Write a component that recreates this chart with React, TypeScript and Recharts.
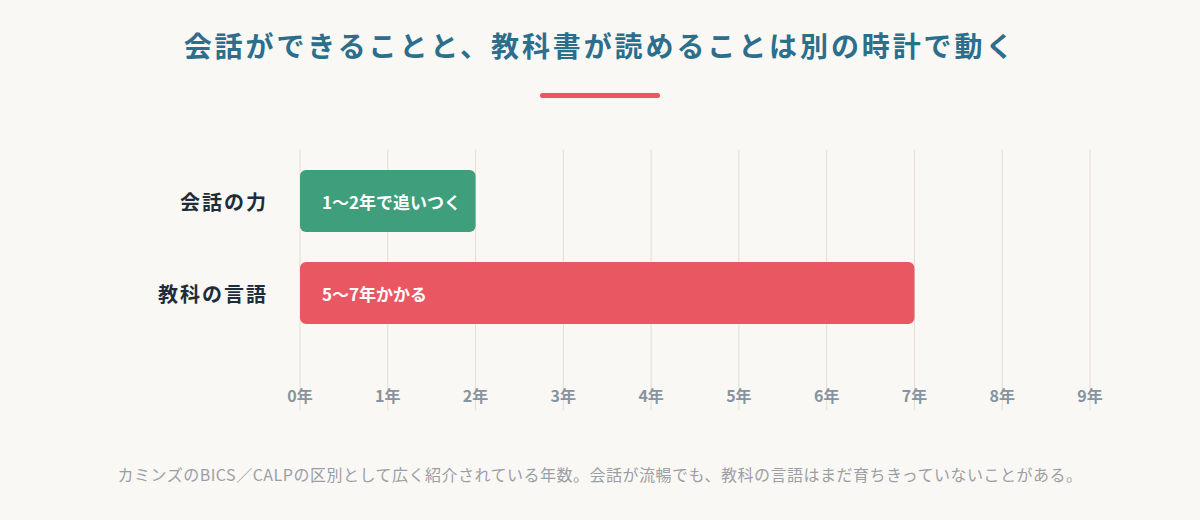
import { BarChart, Bar, XAxis, YAxis, CartesianGrid, Cell, LabelList } from "recharts";

const categories = ["会話の力", "教科の言語"];
const years = [2, 7];
const barLabels = ["1〜2年で追いつく", "5〜7年かかる"];
const barColors = ["#3f9e7c", "#e85762"];
const yearTicks = [0, 1, 2, 3, 4, 5, 6, 7, 8, 9];

const data = categories.map((name, i) => ({ name, years: years[i], label: barLabels[i] }));

const FONT = '"Noto Sans CJK JP", "Noto Sans", sans-serif';

// tick labels sit over the bottom end of the grid lines
const YearTick = (props: any) => (
  <text
    x={props.x}
    y={props.y - 15}
    textAnchor="middle"
    dominantBaseline="central"
    fontSize={16}
    fontWeight={700}
    fill="#8893a0"
    fontFamily={FONT}
  >
    {props.payload.value}年
  </text>
);

const CategoryTick = (props: any) => (
  <text
    x={props.x}
    y={props.y}
    textAnchor="end"
    dominantBaseline="central"
    fontSize={20}
    fontWeight={700}
    fill="#1f2d3a"
    letterSpacing={2}
    fontFamily={FONT}
  >
    {props.payload.value}
  </text>
);

const BarText = (props: any) => (
  <text
    x={props.x + 22}
    y={props.y + props.height / 2}
    dominantBaseline="central"
    fontSize={17}
    fontWeight={700}
    fill="#ffffff"
    fontFamily={FONT}
  >
    {props.value}
  </text>
);

export default function App() {
  return (
    <div
      style={{
        position: "absolute",
        left: 0,
        top: 0,
        width: 1200,
        height: 520,
        background: "#faf8f4",
        fontFamily: FONT,
        overflow: "hidden",
      }}
    >
      <BarChart
        width={1200}
        height={520}
        data={data}
        layout="vertical"
        margin={{ top: 150, right: 110, bottom: 80, left: 150 }}
      >
        <CartesianGrid horizontal={false} stroke="#e4ded3" />
        <XAxis
          type="number"
          domain={[0, 9]}
          ticks={yearTicks}
          height={30}
          axisLine={false}
          tickLine={false}
          tickSize={0}
          tickMargin={0}
          tick={<YearTick />}
        />
        <YAxis
          type="category"
          dataKey="name"
          width={150}
          axisLine={false}
          tickLine={false}
          tickSize={0}
          tickMargin={32}
          padding={{ top: 5, bottom: 71 }}
          tick={<CategoryTick />}
        />
        <Bar dataKey="years" barSize={62} radius={6} isAnimationActive={false}>
          {data.map((d, i) => (
            <Cell key={d.name} fill={barColors[i]} />
          ))}
          <LabelList dataKey="label" content={<BarText />} />
        </Bar>
      </BarChart>

      <div
        style={{
          position: "absolute",
          top: 26,
          left: 0,
          width: 1200,
          textAlign: "center",
          fontSize: 28,
          fontWeight: 700,
          letterSpacing: 2.9,
          color: "#2b6f8c",
          lineHeight: "38px",
        }}
      >
        会話ができることと、教科書が読めることは別の時計で動く
      </div>
      <div
        style={{
          position: "absolute",
          top: 93,
          left: 540,
          width: 120,
          height: 5,
          borderRadius: 3,
          background: "#e85762",
        }}
      />
      <div
        style={{
          position: "absolute",
          top: 462,
          left: 0,
          width: 1200,
          textAlign: "center",
          fontSize: 16,
          letterSpacing: 0.5,
          color: "#9a9fa6",
          lineHeight: "24px",
        }}
      >
        カミンズのBICS／CALPの区別として広く紹介されている年数。会話が流暢でも、教科の言語はまだ育ちきっていないことがある。
      </div>
    </div>
  );
}
